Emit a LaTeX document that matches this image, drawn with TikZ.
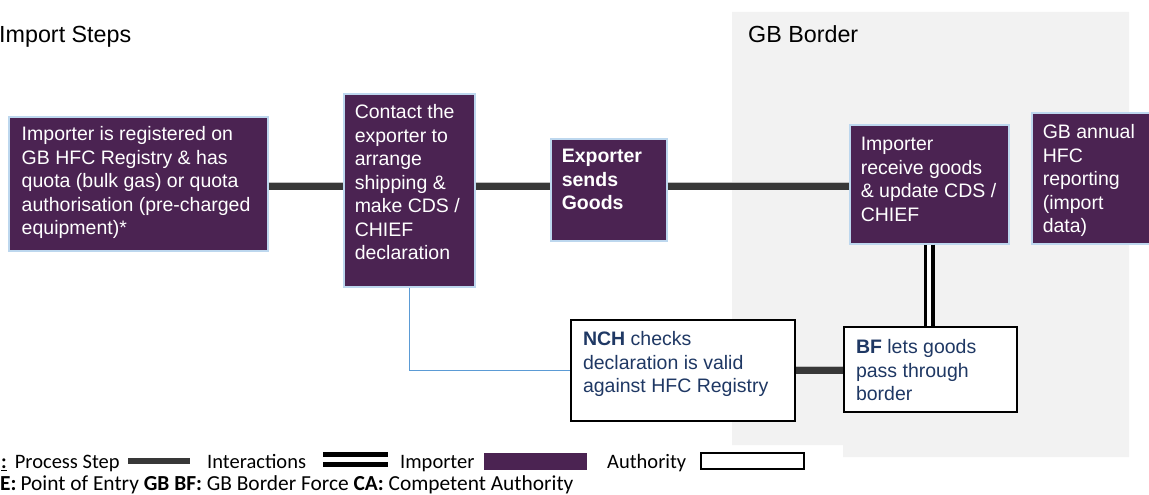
\documentclass[tikz,border=0pt]{standalone}
\usepackage{fontspec}
\setmainfont{Liberation Sans}
\newfontfamily\legfont{Carlito}
\definecolor{purp}{RGB}{75,35,82}
\definecolor{bordblue}{RGB}{189,215,238}
\definecolor{bggrey}{RGB}{242,242,242}
\definecolor{linegray}{RGB}{56,56,56}
\definecolor{navy}{RGB}{31,56,100}
\definecolor{thinblue}{RGB}{91,155,213}
% #1 width, #2 height, #3 left offset, #4 top offset, #5 text
\newcommand{\bxt}[5]{\hspace*{#3}\parbox[c][#2][t]{\dimexpr#1-#3\relax}{\vspace*{#4}\raggedright\strut #5}}
\begin{document}
\begin{tikzpicture}[x=1pt,y=-1pt,
  pbox/.style={draw=bordblue, line width=1.5pt, fill=purp, text=white, inner sep=0pt, anchor=north west, font=\fontsize{19.5}{23.5}\selectfont},
  abox/.style={draw=black, line width=2pt, fill=white, text=navy, inner sep=0pt, anchor=north west, font=\fontsize{19.5}{23.5}\selectfont},
  link/.style={draw=linegray, line width=7pt, preaction={draw=black!25, line width=8pt}},
  dbl/.style={draw=black, line width=3.5pt, double=white, double distance=4pt},
  thinlink/.style={draw=thinblue, line width=1pt},
  title/.style={anchor=base west, inner sep=0pt, font=\fontsize{23.3}{28}\selectfont},
  leg/.style={anchor=base west, inner sep=0pt, font=\legfont\fontsize{20.5}{25}\selectfont}]
\useasboundingbox (0,0) rectangle (1149,495);
\clip (0,0) rectangle (1149,495);
% GB border region
\fill[bggrey] (732,12) -- (1129,12) -- (1129,457) -- (843,457) -- (843,445) -- (732,445) -- cycle;
% titles
\node[title] (t1) at (-1,43) {Import Steps};
\node[title] (t2) at (748,43) {GB Border};
% rows
\coordinate (row) at (0,186);
\coordinate (row2) at (0,370);
% boxes
\node[pbox] (b1) at (8,116) {\bxt{259pt}{134pt}{13pt}{7.5pt}{Importer is registered on\\GB HFC Registry \& has\\quota (bulk gas) or quota\\authorisation (pre-charged\\equipment)*}};
\node[pbox] (b2) at (343,93) {\bxt{131pt}{193pt}{11pt}{8.5pt}{Contact the\\exporter to\\arrange\\shipping \&\\make CDS /\\CHIEF\\declaration}};
\node[pbox] (b3) at (550,138) {\bxt{116pt}{102pt}{11pt}{7.5pt}{\bfseries Exporter\\sends\\Goods}};
\node[pbox] (b4) at (849,124) {\bxt{159pt}{119pt}{11pt}{9.5pt}{Importer\\receive goods\\\& update CDS /\\CHIEF}};
\node[pbox] (b5) at (1031,112) {\bxt{140pt}{131pt}{11pt}{9.5pt}{GB annual\\HFC\\reporting\\(import\\data)}};
\node[abox] (nch) at (570,319) {\bxt{224pt}{101pt}{12pt}{9.5pt}{\textbf{NCH} checks\\declaration is valid\\against HFC Registry}};
\node[abox] (bf) at (843,326) {\bxt{173pt}{85pt}{12pt}{10.5pt}{\textbf{BF} lets goods\\pass through\\border}};
% connectors
\draw[link] (b1.east |- row) -- (b2.west |- row);
\draw[link] (b2.east |- row) -- (b3.west |- row);
\draw[link] (b3.east |- row) -- (b4.west |- row);
\draw[link] (nch.east |- row2) -- (bf.west |- row2);
\draw[dbl] (b4.south) -- (b4.south |- bf.north);
\draw[thinlink] (b2.south) |- (nch.west);
% legend
\node[leg] (k1) at (1,468.5) {\underline{\textbf{:}}\hspace{8pt}Process Step};
\fill[linegray] (128,458) rectangle (190,464);
\node[leg] (k2) at (207,468.5) {Interactions};
\draw[black, line width=5pt, double=white, double distance=5pt] (323,459) -- (388,459);
\node[leg] (k3) at (400,468.5) {Importer};
\fill[purp] (484,453) rectangle (587,470);
\node[leg] (k4) at (607,468.5) {Authority};
\draw[black, line width=2pt] (701,453) rectangle (804,469);
\node[leg, font=\legfont\fontsize{21.4}{25}\selectfont] (k5) at (0,490) {\textbf{E:}\hspace{4pt}Point of Entry \textbf{GB BF:} GB Border Force \textbf{CA:} Competent Authority};
\end{tikzpicture}
\end{document}
